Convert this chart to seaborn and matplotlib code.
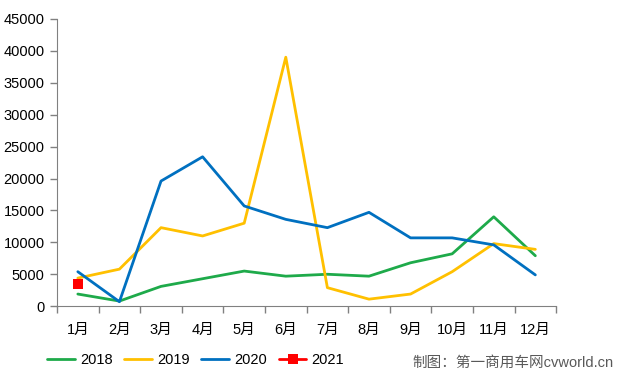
import pandas as pd
import matplotlib
matplotlib.use("Agg")
import matplotlib.pyplot as plt
import seaborn as sns

# data
months = ['1月', '2月', '3月', '4月', '5月', '6月', '7月', '8月', '9月', '10月', '11月', '12月']
v2018 = [1900, 800, 3100, 4300, 5500, 4700, 5000, 4700, 6800, 8200, 14000, 7900]
v2019 = [4400, 5800, 12300, 11000, 13000, 39000, 2900, 1100, 1900, 5400, 9800, 8900]
v2020 = [5400, 700, 19600, 23400, 15700, 13600, 12300, 14700, 10700, 10700, 9600, 4900]
v2021 = [3500]

sns.set_style("ticks")
plt.rcParams['font.family'] = ['Liberation Sans', 'Noto Sans CJK SC', 'DejaVu Sans']
plt.rcParams['font.size'] = 10.5
plt.rcParams['text.color'] = 'black'
plt.rcParams['xtick.labelcolor'] = 'black'
plt.rcParams['ytick.labelcolor'] = 'black'

rows = []
for year, vals in [('2018', v2018), ('2019', v2019), ('2020', v2020), ('2021', v2021)]:
    for i, v in enumerate(vals):
        rows.append({'month': i, 'year': year, 'value': v})
df = pd.DataFrame(rows)

palette = {'2018': '#1EAA4A', '2019': '#FFC000', '2020': '#0070C0', '2021': '#FF0000'}

fig = plt.figure(figsize=(6.2, 3.78), dpi=100)
ax = fig.add_axes([0.092, 0.19, 0.805, 0.76])

sns.lineplot(data=df[df['year'] != '2021'], x='month', y='value', hue='year',
             palette=palette, linewidth=2, ax=ax, legend=False)
sns.lineplot(data=df[df['year'] == '2021'], x='month', y='value', color=palette['2021'],
             marker='s', markersize=7, markeredgewidth=0, linewidth=2, ax=ax, legend=False)

ax.set_xlim(-0.5, 11.5)
ax.set_ylim(0, 45000)
ax.set_yticks(range(0, 45001, 5000))
ax.set_xticks([i - 0.5 for i in range(13)])
ax.set_xticklabels([])
ax.set_xticks(range(12), minor=True)
ax.set_xticklabels(months, minor=True)
ax.tick_params(axis='x', which='minor', length=0, pad=12)
ax.tick_params(axis='both', which='major', length=5, color='#808080', width=1)
ax.tick_params(axis='y', pad=4)
ax.set_xlabel('')
ax.set_ylabel('')
sns.despine(ax=ax)
for s in ['left', 'bottom']:
    ax.spines[s].set_color('#808080')

handles = []
for year in ['2018', '2019', '2020', '2021']:
    h, = ax.plot([], [], color=palette[year], linewidth=2,
                 marker='s' if year == '2021' else None, markersize=7, markeredgewidth=0)
    handles.append(h)
fig.legend(handles, ['2018', '2019', '2020', '2021'], loc='lower left',
           bbox_to_anchor=(0.055, -0.005), ncol=4, frameon=False,
           handlelength=1.9, columnspacing=0.8, handletextpad=0.35)

fig.text(0.665, 0.03, '制图：第一商用车网cvworld.cn', color='#595959', fontsize=10.5)

fig.savefig('out.png', dpi=100)
